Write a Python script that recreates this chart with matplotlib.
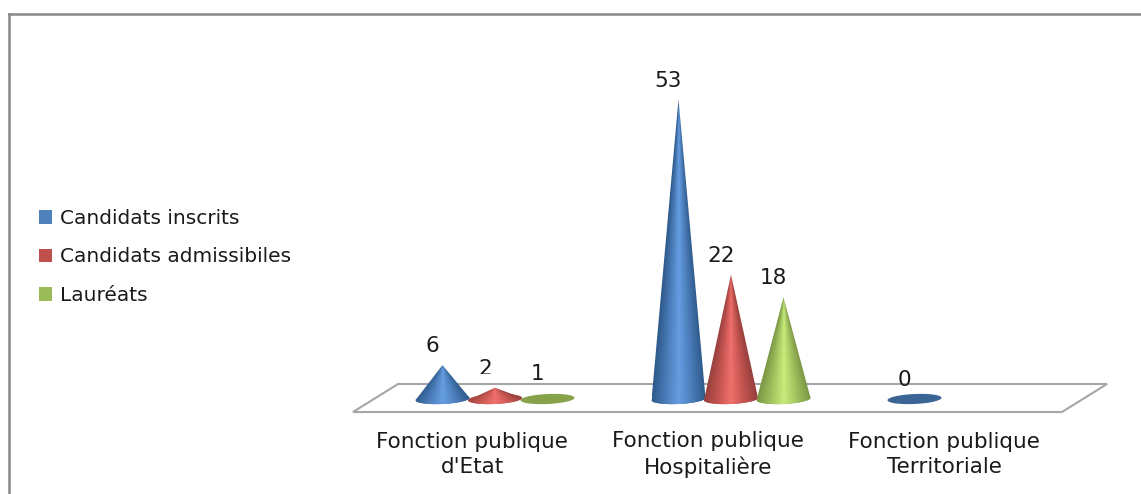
import numpy as np
import matplotlib
matplotlib.use("Agg")
import matplotlib.pyplot as plt
from matplotlib.colors import LinearSegmentedColormap
from matplotlib.patches import Patch, Polygon, Rectangle

# DATA
categories = ["Fonction publique\nd'Etat", "Fonction publique\nHospitalière", "Fonction publique\nTerritoriale"]
series_names = ["Candidats inscrits", "Candidats admissibiles", "Lauréats"]
inscrits = [6, 53, 0]
admissibles = [2, 22, None]
laureats = [1, 18, None]

# STYLE
legend_colors = ["#4f81bd", "#c0504d", "#9bbb59"]
base_colors = ["#3a6595", "#b04a48", "#86a34b"]
gradients = [
    ["#2f5a8c", "#4a7cb8", "#669ee2", "#4a7cb8", "#2f5a8c"],
    ["#96403d", "#c2534f", "#f0706c", "#c2534f", "#96403d"],
    ["#7b9645", "#9fc05c", "#c9ec7c", "#9fc05c", "#7b9645"],
]
text_color = "#1a1a1a"
grey = "#a6a6a6"
plt.rcParams["font.family"] = ["DejaVu Sans"]

# LAYOUT (reference pixels)
W, H = 1141, 494
left_px, top_px = 8.5, 14
x0_px, y0_px = 495, 399     # category 0 centre, value 0
px_per_cat = 236
px_per_unit = 5.65
bar_step = 52.5 / px_per_cat
radius = 27 / px_per_cat
base_h = 5 / px_per_unit
tilt = 1.2 / px_per_unit


def data_x(px):
    return (px - x0_px) / px_per_cat


def data_y(px):
    return (y0_px - px) / px_per_unit


def draw_cone(ax, x, value, j):
    theta = np.linspace(0, 2 * np.pi, 80)
    ex = x + radius * np.cos(theta)
    ey = base_h * np.sin(theta) + tilt * np.cos(theta)
    ax.add_patch(Polygon(np.column_stack([ex, ey]), closed=True, fc=base_colors[j], ec="none", zorder=3))
    if value <= 1:
        return
    # body: apex plus the lower half of the base ellipse
    theta = np.linspace(0, -np.pi, 50)
    bx = x + radius * np.cos(theta)
    by = base_h * np.sin(theta) + tilt * np.cos(theta)
    body = Polygon(np.column_stack([np.r_[x, bx], np.r_[value, by]]), closed=True,
                   transform=ax.transData, fc="none", ec="none")
    ax.add_patch(body)
    # shading follows the cone: narrower towards the tip
    xs = np.linspace(-radius, radius, 160)
    ys = np.linspace(value, -base_h - tilt, 300)
    gx, gy = np.meshgrid(xs, ys)
    half = np.maximum((1 - gy / value) * radius, 1e-4)
    u = np.clip(gx / half, -1, 1) / 2 + 0.5
    cmap = LinearSegmentedColormap.from_list("cone", gradients[j])
    img = ax.imshow(u, cmap=cmap, vmin=0, vmax=1, aspect="auto", zorder=4,
                    extent=(x - radius, x + radius, -base_h - tilt, value))
    img.set_clip_path(body)


fig = plt.figure(figsize=(W / 100, H / 100), dpi=100)
ax = fig.add_axes([left_px / W, 0, 1 - left_px / W + 0.01, 1 - top_px / H])

# floor of the 3D chart
floor_x = [data_x(p) for p in (353, 1062, 1107, 398)]
floor_y = [data_y(p) for p in (412, 412, 384, 384)]
ax.add_patch(Polygon(np.column_stack([floor_x, floor_y]), closed=True, fc="white", ec=grey, lw=1.5, zorder=1))

all_series = [inscrits, admissibles, laureats]
for j, values in enumerate(all_series):
    for i, v in enumerate(values):
        if v is None:
            continue
        x = i + (j - 1) * bar_step
        draw_cone(ax, x, v, j)
        label = ax.annotate(str(v), (x, v), xytext=(-10, 19), textcoords="offset pixels",
                            ha="center", va="center", fontsize=15.5,
                            color=text_color, zorder=2)
        if v == 2:
            # the reference cuts off the foot of this label
            label.set_clip_on(True)
            label.set_clip_path(Rectangle((data_x(470), data_y(374)), 0.2, 3.5, transform=ax.transData))

for i, name in enumerate(categories):
    ax.text(i - 23 / px_per_cat, data_y(454.5), name, ha="center", va="center", multialignment="center",
            fontsize=15.5, color=text_color, linespacing=1.3)

ax.set_xlim(data_x(left_px), data_x(W + 0.01 * W))
ax.set_ylim(data_y(H), data_y(top_px))
ax.set_xticks([])
ax.set_yticks([])
ax.spines["right"].set_visible(False)
ax.spines["bottom"].set_visible(False)
ax.spines["left"].set_color("#868686")
ax.spines["top"].set_color("#868686")
ax.spines["left"].set_linewidth(1.8)
ax.spines["top"].set_linewidth(1.8)

handles = [Patch(fc=c, ec="none") for c in legend_colors]
fig.legend(handles, series_names, loc="center left", bbox_to_anchor=(39 / W, 1 - 257 / H), frameon=False,
           prop={"size": 14.5}, labelcolor=text_color, handlelength=0.65, handleheight=0.65,
           handletextpad=0.4, labelspacing=0.97, borderpad=0, borderaxespad=0)

fig.savefig("out.png", dpi=100)
